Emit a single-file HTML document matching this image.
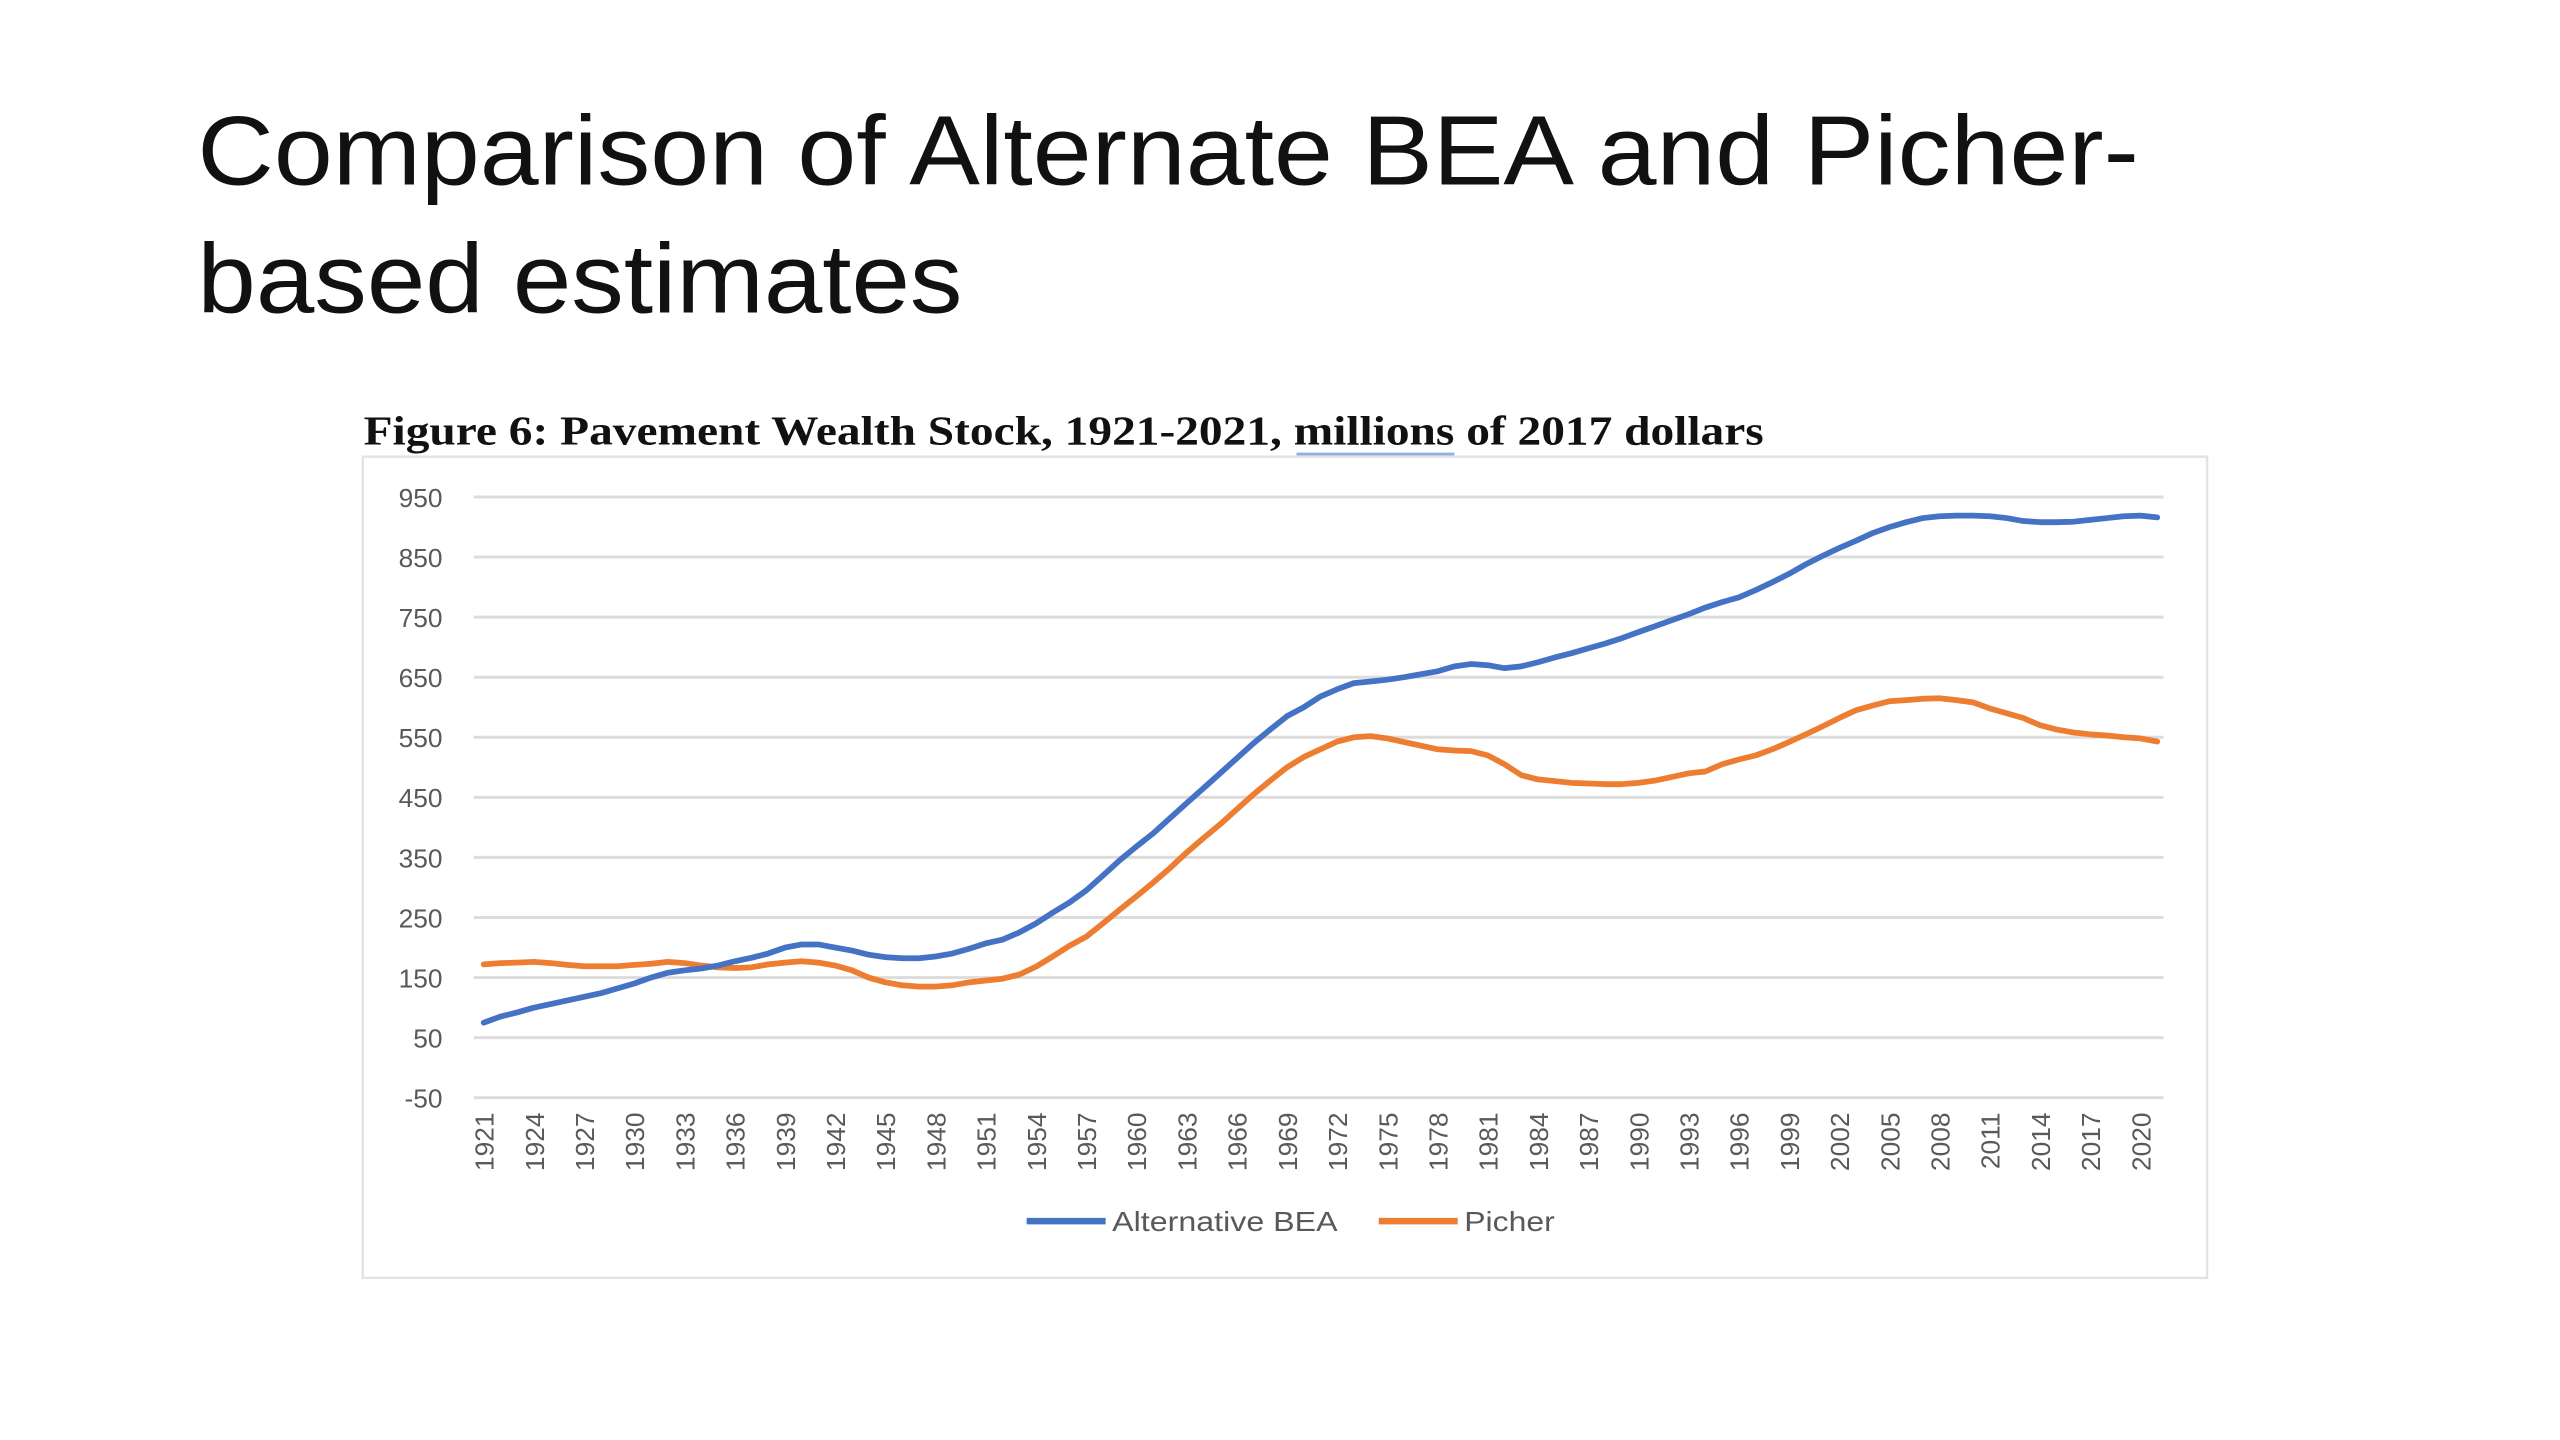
<!DOCTYPE html>
<html><head><meta charset="utf-8"><style>
html,body{margin:0;padding:0;background:#fff;}
svg{display:block;}
</style></head><body>
<svg id="slide" width="2560" height="1440" viewBox="0 0 1556 875" preserveAspectRatio="none" xmlns="http://www.w3.org/2000/svg">
<text x="120" y="112" font-family="Liberation Sans, sans-serif" font-size="60" fill="#111" textLength="1180" lengthAdjust="spacingAndGlyphs">Comparison of Alternate BEA and Picher-</text>
<text x="120" y="190" font-family="Liberation Sans, sans-serif" font-size="60" fill="#111" textLength="465" lengthAdjust="spacingAndGlyphs">based estimates</text>
<text x="221" y="270" font-family="Liberation Serif, serif" font-weight="bold" font-size="25" fill="#111" textLength="851" lengthAdjust="spacingAndGlyphs">Figure 6: Pavement Wealth Stock, 1921-2021, millions of 2017 dollars</text>
<line x1="788" y1="276" x2="884" y2="276" stroke="#8fb0e6" stroke-width="2"/>
<rect x="220.5" y="277.5" width="1121" height="499" fill="#fff" stroke="#e3e3e3" stroke-width="1.5"/>
<g id="grid"></g><g id="ylabels"></g><g id="xlabels"></g><g id="series"></g>
<g>
<line x1="624" y1="742" x2="672" y2="742" stroke="#4472c4" stroke-width="4"/>
<text x="676" y="748" font-family="Liberation Sans, sans-serif" font-size="17" fill="#595959" textLength="137" lengthAdjust="spacingAndGlyphs">Alternative BEA</text>
<line x1="838" y1="742" x2="886" y2="742" stroke="#ed7d31" stroke-width="4"/>
<text x="890" y="748" font-family="Liberation Sans, sans-serif" font-size="17" fill="#595959" textLength="55" lengthAdjust="spacingAndGlyphs">Picher</text>
</g>
</svg>
<script>
const years = Array.from({length:101},(_, i)=>1921+i);
const yTicks = [-50,50,150,250,350,450,550,650,750,850,950];
const beaValues = [75,85,92,100,106,112,118,124,132,140,150,158,162,165,170,177,183,190,200,205,205,200,195,188,184,182,182,185,190,198,207,213,225,240,258,275,295,320,345,368,390,415,440,465,490,515,540,563,585,600,618,630,640,643,646,650,655,660,668,672,670,665,668,675,683,690,698,706,715,725,735,745,755,766,775,783,795,808,822,838,852,865,877,890,900,908,915,918,919,919,918,915,910,908,908,909,912,915,918,919,916];
const picherValues = [172,174,175,176,174,171,169,169,169,171,173,176,174,170,167,166,167,172,175,177,175,170,162,150,142,137,135,135,137,142,145,148,155,168,185,203,218,240,263,285,308,332,358,382,405,430,455,478,500,517,530,543,550,552,548,542,536,530,528,527,520,505,487,480,477,474,473,472,472,474,478,484,490,493,505,513,520,530,542,555,568,582,595,603,610,612,614,615,612,608,598,590,582,570,563,558,555,553,550,548,543];
const NS="http://www.w3.org/2000/svg";
const X0=294, XSTEP=(1301-294)/99;
function xPos(yr){return X0+(yr-1921)*XSTEP;}
function yPos(v){return 667-(v+50)*0.365;}
const grid=document.getElementById('grid'), yl=document.getElementById('ylabels'), xl=document.getElementById('xlabels'), ser=document.getElementById('series');
yTicks.forEach(t=>{
  const l=document.createElementNS(NS,'line');
  
  
  l.setAttribute('x1',288);l.setAttribute('x2',1315);
  l.setAttribute('y1',yPos(t));l.setAttribute('y2',yPos(t));
  l.setAttribute('stroke','#dcdcdc');l.setAttribute('stroke-width','1.8');
  grid.appendChild(l);
  const tx=document.createElementNS(NS,'text');
  
  
  tx.setAttribute('x',269);tx.setAttribute('y',yPos(t)+6);
  tx.setAttribute('text-anchor','end');tx.setAttribute('font-family','Liberation Sans, sans-serif');
  tx.setAttribute('font-size','16');tx.setAttribute('fill','#595959');
  tx.textContent=t;yl.appendChild(tx);
});
years.forEach(yr=>{
  if((yr-1921)%3!==0) return;
  const tx=document.createElementNS(NS,'text');
  
  
  const x=xPos(yr)+6, y=676;
  tx.setAttribute('x',x);tx.setAttribute('y',y);
  tx.setAttribute('transform','rotate(-90 '+x+' '+y+')');
  tx.setAttribute('text-anchor','end');tx.setAttribute('font-family','Liberation Sans, sans-serif');
  tx.setAttribute('font-size','16');tx.setAttribute('fill','#595959');
  tx.textContent=yr;xl.appendChild(tx);
});
function drawLine(vals,color,name){
  const p=document.createElementNS(NS,'polyline');
  
  
  p.setAttribute('points',vals.map((v,i)=>xPos(years[i]).toFixed(1)+','+yPos(v).toFixed(1)).join(' '));
  p.setAttribute('fill','none');p.setAttribute('stroke',color);p.setAttribute('stroke-width','3.5');
  p.setAttribute('stroke-linejoin','round');p.setAttribute('stroke-linecap','round');
  ser.appendChild(p);
}
drawLine(picherValues,'#ed7d31','picher-line');
drawLine(beaValues,'#4472c4','alternative-bea-line');
</script>
</body></html>
